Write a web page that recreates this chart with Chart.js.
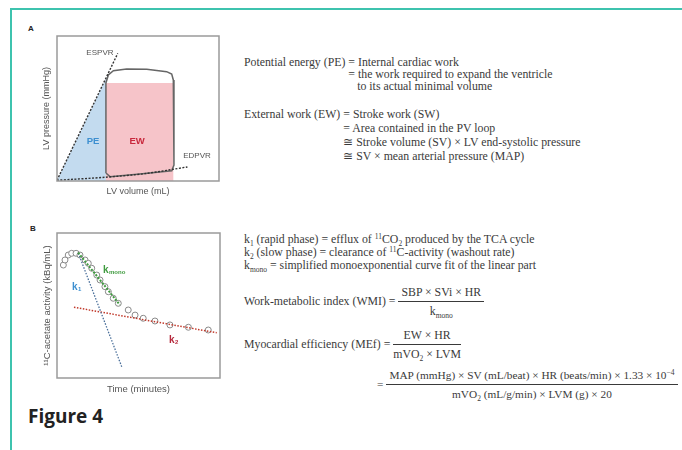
<!DOCTYPE html>
<html lang="en">
<head>
<meta charset="UTF-8">
<title>Figure 4</title>
<script src="https://cdn.jsdelivr.net/npm/chart.js@4.4.1/dist/chart.umd.min.js"></script>
<style>
    body { margin: 0; background: #fff; }
    #page { position: relative; width: 682px; height: 450px; overflow: hidden; }
    .frame-top { position: absolute; left: 10px; top: 8px; width: 672px; height: 2px; background: #3ec3ae; }
    .frame-left { position: absolute; left: 10px; top: 8px; width: 2px; height: 442px; background: #3ec3ae; }
    canvas { position: absolute; }
    .panel { position: absolute; font: bold 8px "Liberation Sans", sans-serif; color: #222; }
    .blk { position: absolute; display: flex; font: 11.8px "Liberation Serif", serif; line-height: 12px; color: #3a3a3a; white-space: nowrap; }
    .blk .lab { padding-right: 3px; }
    .txt { position: absolute; font: 11.8px "Liberation Serif", serif; line-height: 13px; color: #3a3a3a; white-space: nowrap; }
    .txt sub, .txt sup { font-size: 7.5px; line-height: 0; vertical-align: baseline; position: relative; }
    .txt sub { top: 3px; }
    .txt sup { top: -4px; }
    .frac { display: inline-flex; flex-direction: column; vertical-align: middle; text-align: center; line-height: 13px; margin-left: 3px; }
    .frac .num { border-bottom: 1px solid #3a3a3a; padding: 0 3px 2px; }
    .frac .den { padding-top: 3px; }
    .big { font-size: 11.3px; }
    .fig { position: absolute; left: 28px; top: 403px; font: bold 19px "Open Sans", sans-serif; color: #222; }
</style>
</head>
<body>
<div id="page">
    <div class="frame-top"></div>
    <div class="frame-left"></div>

    <div class="panel" style="left:28px;top:24px">A</div>
    <canvas id="pvChart" width="240" height="210" style="left:0;top:0"></canvas>

    <div class="panel" style="left:30px;top:224px">B</div>
    <canvas id="acChart" width="240" height="190" style="left:0;top:210px"></canvas>

    <!-- panel A text -->
    <div class="blk" style="left:244px;top:56px">
        <span class="lab">Potential energy (PE)</span>
        <span>= Internal cardiac work<br>= the work required to expand the ventricle<br>&nbsp;&nbsp;&nbsp;to its actual minimal volume</span>
    </div>
    <div class="blk" style="left:244px;top:107px;line-height:14px">
        <span class="lab">External work (EW)</span>
        <span>= Stroke work (SW)<br>= Area contained in the PV loop<br>≅ Stroke volume (SV) × LV end-systolic pressure<br>≅ SV × mean arterial pressure (MAP)</span>
    </div>

    <!-- panel B text -->
    <div class="txt" style="left:244px;top:233px">
        k<sub>1</sub> (rapid phase) = efflux of <sup>11</sup>CO<sub>2</sub> produced by the TCA cycle<br>
        k<sub>2</sub> (slow phase) = clearance of <sup>11</sup>C-activity (washout rate)<br>
        k<sub>mono</sub> = simplified monoexponential curve fit of the linear part
    </div>
    <div class="txt" style="left:244px;top:286px">Work-metabolic index (WMI) =<span class="frac"><span class="num">SBP × SVi × HR</span><span class="den">k<sub>mono</sub></span></span></div>
    <div class="txt" style="left:244px;top:329px">Myocardial efficiency (MEf) =<span class="frac"><span class="num">EW × HR</span><span class="den">mVO<sub>2</sub> × LVM</span></span></div>
    <div class="txt big" style="left:377px;top:369px">=<span class="frac"><span class="num">MAP (mmHg) × SV (mL/beat) × HR (beats/min) × 1.33 × 10<sup>−4</sup></span><span class="den">mVO<sub>2</sub> (mL/g/min) × LVM (g) × 20</span></span></div>

    <div class="fig">Figure 4</div>
</div>

<script>
    // ---- panel A: pressure-volume loop (arbitrary units 0-100) ----
    const espvrVol = [0, 37.5];
    const espvrPres = [0.5, 88];
    const edpvrVol = [0, 30, 55, 80.5];
    const edpvrPres = [0.5, 2.6, 5.2, 9.7];
    const loopVol = [30.2, 30.2, 31.7, 34.8, 43.0, 55.4, 67.7, 70.8, 71.8, 72.2, 72.2, 70.8, 51.2, 32.7, 30.2];
    const loopPres = [5.5, 67.6, 73.1, 76.1, 77.2, 77.0, 75.4, 73.8, 69.7, 55.9, 11.0, 7.0, 4.8, 3.0, 5.5];
    const peVol = [0, 31, 30.2, 30.2];
    const pePres = [0.5, 72.5, 67.6, 0];
    const ewVol = [30.2, 71.8, 71.8, 30.2];
    const ewPres = [0, 0, 67.6, 67.6];

    // ---- panel B: 11C-acetate washout curve ----
    const timeMin = [3.9, 4.9, 6.9, 9.0, 11.7, 14.1, 17.2, 19.2, 21.3, 24.4, 26.4, 29.4, 31.5, 34.5, 37.6, 43.7, 47.9, 52.9, 60.1, 69.3, 80.6, 92.8];
    const activity = [77.9, 81.4, 84.8, 86.0, 86.0, 84.8, 81.4, 79.1, 75.7, 71.0, 67.6, 63.0, 59.5, 55.0, 51.5, 46.9, 43.4, 41.2, 39.3, 36.6, 35.0, 33.1];
    const k1Time = [13.1, 39.7];
    const k1Act = [86, 7.8];
    const k2Time = [10.4, 98];
    const k2Act = [48.8, 31.2];
    const monoTime = [13, 38.5];
    const monoAct = [86.5, 50.5];

    const zip = (xs, ys) => xs.map((x, i) => ({ x: x, y: ys[i] }));

    // frame around the plot area, text labels and axis titles
    const boxPlugin = {
        id: 'box',
        afterDatasetsDraw(chart, args, opts) {
            const ctx = chart.ctx, a = chart.chartArea;
            const sx = chart.scales.x, sy = chart.scales.y;
            ctx.save();
            ctx.strokeStyle = '#9a9a9a';
            ctx.lineWidth = 1.5;
            ctx.strokeRect(a.left, a.top, a.right - a.left, a.bottom - a.top);

            opts.labels.forEach(l => {
                const px = sx.getPixelForValue(l.x), py = sy.getPixelForValue(l.y);
                ctx.fillStyle = l.color;
                ctx.font = (l.bold ? 'bold ' : '') + l.size + 'px "Liberation Sans", sans-serif';
                ctx.textBaseline = 'middle';
                ctx.textAlign = l.sub ? 'left' : 'center';
                ctx.fillText(l.text, px, py);
                if (l.sub) {
                    const w = ctx.measureText(l.text).width;
                    ctx.font = (l.bold ? 'bold ' : '') + (l.size * 0.6) + 'px "Liberation Sans", sans-serif';
                    ctx.fillText(l.sub, px + w + 0.5, py + 2.5);
                }
            });

            ctx.fillStyle = '#555';
            ctx.font = opts.titleSize + 'px "Liberation Sans", sans-serif';
            ctx.textAlign = 'center';
            ctx.textBaseline = 'middle';
            ctx.fillText(opts.xTitle, (a.left + a.right) / 2, a.bottom + 11);
            ctx.translate(a.left - 10, (a.top + a.bottom) / 2);
            ctx.rotate(-Math.PI / 2);
            ctx.fillText(opts.yTitle, 0, 0);
            ctx.restore();
        }
    };

    const hiddenScales = {
        x: { type: 'linear', min: 0, max: 100, display: false },
        y: { type: 'linear', min: 0, max: 100, display: false }
    };

    new Chart(document.getElementById('pvChart'), {
        type: 'scatter',
        data: {
            datasets: [
                { data: zip(espvrVol, espvrPres), showLine: true, borderColor: '#333', borderWidth: 1.4, borderDash: [2, 1.5], pointRadius: 0 },
                { data: zip(edpvrVol, edpvrPres), showLine: true, borderColor: '#333', borderWidth: 1.4, borderDash: [2, 1.5], pointRadius: 0, tension: 0.3 },
                { data: zip(loopVol, loopPres), showLine: true, borderColor: '#666', borderWidth: 1.5, pointRadius: 0 },
                { data: zip(ewVol, ewPres), showLine: true, borderWidth: 0, backgroundColor: '#f6c4c9', fill: 'shape', pointRadius: 0 },
                { data: zip(peVol, pePres), showLine: true, borderWidth: 0, backgroundColor: '#c3dbef', fill: 'shape', pointRadius: 0 }
            ]
        },
        options: {
            responsive: false,
            animation: false,
            layout: { padding: { left: 57, top: 36, right: 21, bottom: 29 } },
            scales: hiddenScales,
            plugins: {
                legend: { display: false },
                tooltip: { enabled: false },
                box: {
                    xTitle: 'LV volume (mL)',
                    yTitle: 'LV pressure (mmHg)',
                    titleSize: 9,
                    labels: [
                        { text: 'ESPVR', x: 26.5, y: 88.3, color: '#555', size: 8 },
                        { text: 'EDPVR', x: 86.4, y: 17.2, color: '#555', size: 8 },
                        { text: 'PE', x: 22.2, y: 27.6, color: '#3d8fd0', size: 9.5, bold: true },
                        { text: 'EW', x: 49.4, y: 27.6, color: '#c8283c', size: 9.5, bold: true }
                    ]
                }
            }
        },
        plugins: [boxPlugin]
    });

    new Chart(document.getElementById('acChart'), {
        type: 'scatter',
        data: {
            datasets: [
                { data: zip(monoTime, monoAct), showLine: true, borderColor: '#3f9b3f', borderWidth: 2, borderDash: [2, 1.5], pointRadius: 0 },
                { data: zip(k1Time, k1Act), showLine: true, borderColor: '#4a6f9a', borderWidth: 1.3, borderDash: [1.5, 1.5], pointRadius: 0 },
                { data: zip(k2Time, k2Act), showLine: true, borderColor: '#c0392b', borderWidth: 1.5, borderDash: [1.5, 1.5], pointRadius: 0 },
                { data: zip(timeMin, activity), pointRadius: 3, pointBorderWidth: 1, pointBorderColor: '#8a8a8a', pointBackgroundColor: '#fff' }
            ]
        },
        options: {
            responsive: false,
            animation: false,
            layout: { padding: { left: 57, top: 23, right: 20, bottom: 22 } },
            scales: hiddenScales,
            plugins: {
                legend: { display: false },
                tooltip: { enabled: false },
                box: {
                    xTitle: 'Time (minutes)',
                    yTitle: '¹¹C-acetate activity (kBq/mL)',
                    titleSize: 9.5,
                    labels: [
                        { text: 'k', sub: 'mono', x: 28.2, y: 74.5, color: '#3f9b3f', size: 10, bold: true },
                        { text: 'k', sub: '1', x: 9.2, y: 62.8, color: '#3d8fd0', size: 10, bold: true },
                        { text: 'k', sub: '2', x: 68.7, y: 26.2, color: '#b5283c', size: 10, bold: true }
                    ]
                }
            }
        },
        plugins: [boxPlugin]
    });
</script>
</body>
</html>
